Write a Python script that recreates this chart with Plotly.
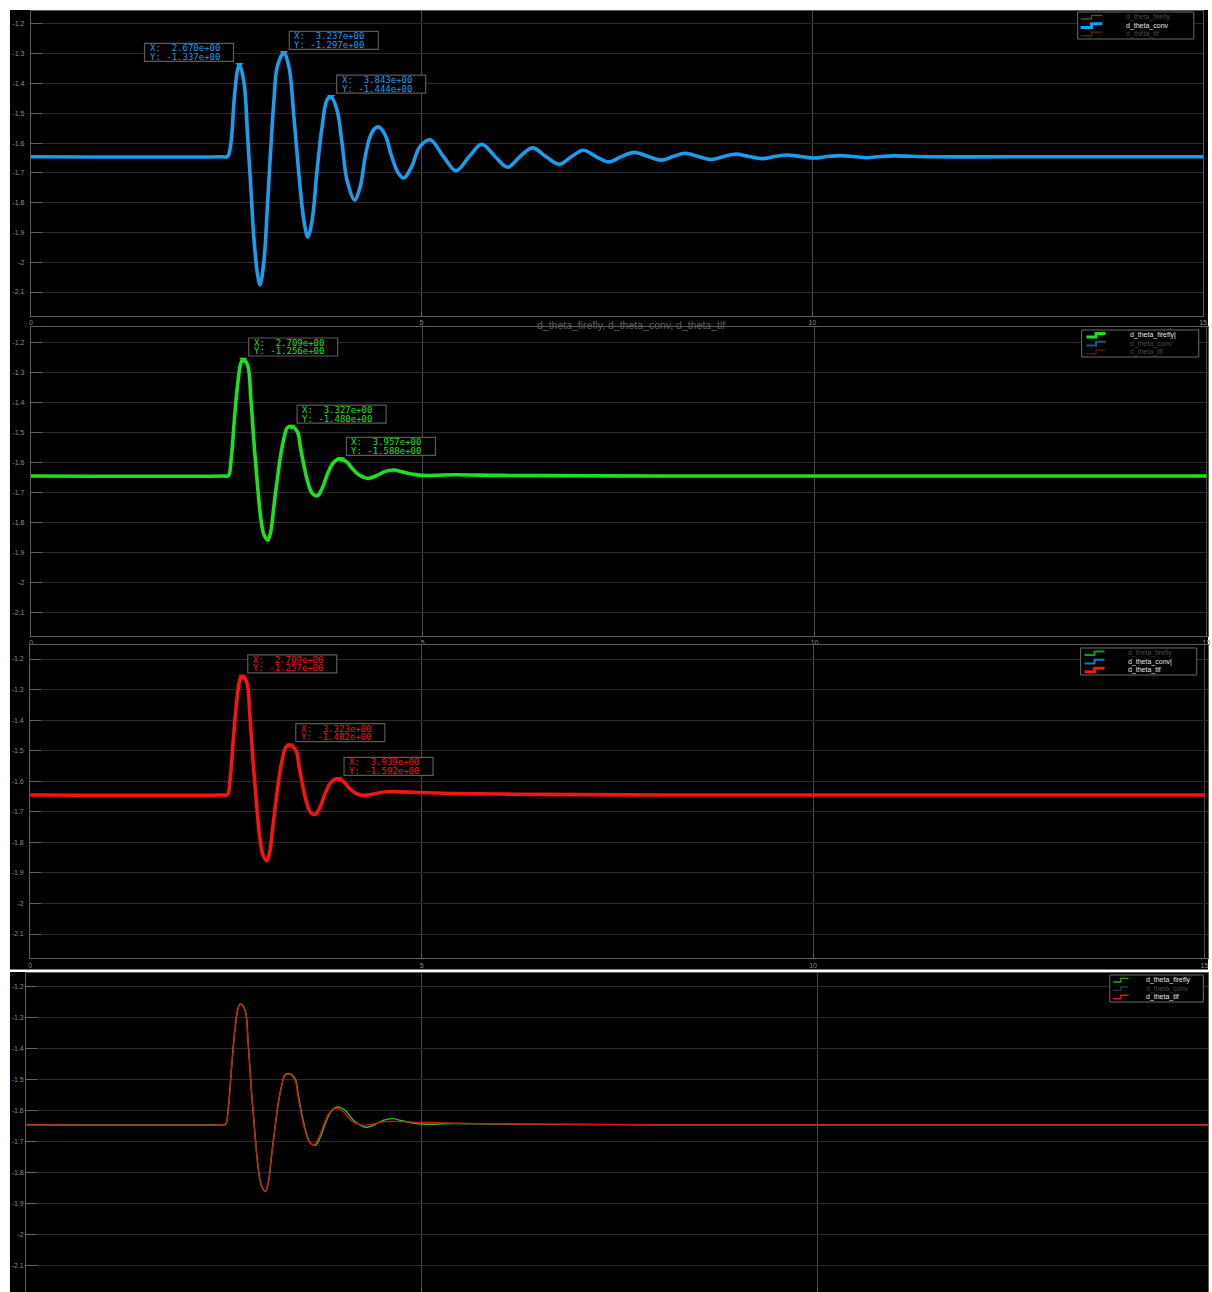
import plotly.graph_objects as go

# ---------------- data ----------------
conv_t = [0, 2.45, 2.517, 2.56, 2.602, 2.645, 2.670, 2.729, 2.772, 2.814, 2.856, 2.899, 2.933,
          2.984, 3.027, 3.069, 3.111, 3.154, 3.237, 3.302, 3.366, 3.429, 3.493, 3.544, 3.600,
          3.663, 3.727, 3.791, 3.843, 3.918, 3.982, 4.045, 4.143, 4.215, 4.279, 4.342, 4.406,
          4.455, 4.533, 4.618, 4.703, 4.775, 4.873, 4.979, 5.11, 5.28, 5.44, 5.61, 5.77, 5.94,
          6.10, 6.26, 6.42, 6.59, 6.76, 6.92, 7.07, 7.23, 7.39, 7.56, 7.72, 7.90, 8.07, 8.22,
          8.37, 8.54, 8.71, 8.87, 9.02, 9.19, 9.36, 9.52, 9.68, 9.85, 10.02, 10.19, 10.36,
          10.53, 10.70, 10.87, 11.04, 11.5, 12.5, 13.5, 15.0]
conv_y = [-1.646, -1.646, -1.645, -1.600, -1.455, -1.354, -1.337, -1.399, -1.567, -1.746, -1.925,
          -2.037, -2.076, -1.992, -1.813, -1.623, -1.455, -1.343, -1.297, -1.343, -1.511, -1.701,
          -1.858, -1.915, -1.858, -1.690, -1.545, -1.455, -1.444, -1.489, -1.600, -1.723, -1.791,
          -1.746, -1.645, -1.578, -1.550, -1.546, -1.572, -1.645, -1.701, -1.717, -1.679, -1.612,
          -1.589, -1.645, -1.693, -1.645, -1.604, -1.645, -1.681, -1.645, -1.616, -1.645, -1.671,
          -1.645, -1.624, -1.645, -1.663, -1.645, -1.631, -1.645, -1.657, -1.645, -1.634, -1.645,
          -1.655, -1.645, -1.637, -1.645, -1.652, -1.645, -1.640, -1.645, -1.650, -1.645, -1.642,
          -1.645, -1.649, -1.645, -1.643, -1.646, -1.646, -1.646, -1.646]

ff_t = [0, 2.45, 2.52, 2.553, 2.595, 2.638, 2.68, 2.709, 2.765, 2.807, 2.849, 2.892, 2.934, 2.976,
        3.025, 3.061, 3.103, 3.146, 3.188, 3.230, 3.273, 3.327, 3.40, 3.442, 3.484, 3.526, 3.590,
        3.655, 3.717, 3.780, 3.844, 3.908, 3.957, 4.035, 4.098, 4.161, 4.246, 4.30, 4.40, 4.52,
        4.63, 4.75, 4.90, 5.0, 5.4, 6.0, 7.0, 8.0, 10.0, 12.0, 15.0]
ff_y = [-1.645, -1.645, -1.644, -1.597, -1.464, -1.341, -1.268, -1.256, -1.274, -1.386, -1.541,
        -1.675, -1.786, -1.842, -1.859, -1.831, -1.742, -1.653, -1.575, -1.519, -1.484, -1.480,
        -1.497, -1.553, -1.609, -1.658, -1.703, -1.711, -1.686, -1.642, -1.606, -1.590, -1.588,
        -1.599, -1.619, -1.636, -1.649, -1.653, -1.645, -1.630, -1.625, -1.632, -1.640, -1.643,
        -1.641, -1.643, -1.644, -1.645, -1.645, -1.645, -1.645]

tlf_t = [0, 2.45, 2.52, 2.553, 2.595, 2.638, 2.68, 2.709, 2.765, 2.807, 2.849, 2.892, 2.934,
         2.976, 3.025, 3.061, 3.103, 3.146, 3.186, 3.227, 3.27, 3.323, 3.395, 3.437, 3.479,
         3.521, 3.585, 3.645, 3.705, 3.765, 3.826, 3.89, 3.939, 4.015, 4.08, 4.15, 4.22, 4.28,
         4.40, 4.52, 4.65, 5.0, 5.4, 6.0, 6.5, 8.0, 10.0, 12.0, 15.0]
tlf_y = [-1.645, -1.645, -1.644, -1.597, -1.464, -1.341, -1.268, -1.257, -1.274, -1.386, -1.541,
         -1.675, -1.786, -1.842, -1.860, -1.831, -1.742, -1.653, -1.577, -1.521, -1.487, -1.482,
         -1.499, -1.555, -1.611, -1.659, -1.703, -1.708, -1.684, -1.643, -1.609, -1.594, -1.592,
         -1.604, -1.624, -1.638, -1.645, -1.646, -1.641, -1.635, -1.634, -1.637, -1.640, -1.642,
         -1.643, -1.645, -1.645, -1.645, -1.645]

conv_tip_x = [2.670, 3.237, 3.843]
conv_tip_y = [-1.337, -1.297, -1.444]
ff_tip_x = [2.709, 3.327, 3.957]
ff_tip_y = [-1.256, -1.480, -1.588]
tlf_tip_x = [2.709, 3.323, 3.939]
tlf_tip_y = [-1.257, -1.482, -1.592]

series_names = ["d_theta_firefly", "d_theta_conv", "d_theta_tlf"]
plot_title = "d_theta_firefly, d_theta_conv, d_theta_tlf"

x_ticks = [0, 5, 10, 15]
x_tick_text = ["0", "5", "10", "15"]
y_ticks = [-1.2, -1.3, -1.4, -1.5, -1.6, -1.7, -1.8, -1.9, -2.0, -2.1]
y_tick_text = ["-1.2", "-1.3", "-1.4", "-1.5", "-1.6", "-1.7", "-1.8", "-1.9", "-2", "-2.1"]

# ---------------- style / layout ----------------
W, H = 1212, 1292


def fx(px):
    return px / W


def fy(py):
    return 1 - py / H


BLUE = "#1C9CEB"
GREEN = "#1EE01E"
RED = "#F41414"
TICKFONT = dict(family="Liberation Sans", size=7, color="#8c8c8c")
SMOOTH = 1.0

panels = [
    dict(x0=29, x1=1207, y0=10.7, y1=316, xr=[0, 15], yr=[-2.1805, -1.1554], labels=True, so=4),
    dict(x0=29, x1=1212, y0=327.3, y1=636, xr=[0, 15.02], yr=[-2.179, -1.1486], labels=True, so=4),
    dict(x0=28.3, x1=1212, y0=645, y1=958.3, xr=[0, 15.045], yr=[-2.1795, -1.1542], labels=True, so=4),
    dict(x0=24.3, x1=1212, y0=972.7, y1=1292, xr=[0, 14.94], yr=[-2.1838, -1.1549], labels=False, so=0),
]

fig = go.Figure()
layout = dict(width=W, height=H, margin=dict(l=0, r=0, t=0, b=0),
              paper_bgcolor="white", plot_bgcolor="black", showlegend=False)

shapes = [
    dict(type="rect", xref="paper", yref="paper", x0=fx(8), x1=fx(1212), y0=fy(969.5), y1=fy(10),
         fillcolor="black", line=dict(width=0), layer="below"),
    dict(type="rect", xref="paper", yref="paper", x0=fx(8), x1=fx(1212), y0=fy(1292), y1=fy(972),
         fillcolor="black", line=dict(width=0), layer="below"),
]
annotations = []

for i, p in enumerate(panels, start=1):
    sx = "" if i == 1 else str(i)
    layout["xaxis" + sx] = dict(
        domain=[fx(p["x0"]), fx(p["x1"])], range=p["xr"], anchor="y" + sx,
        tickvals=x_ticks, ticktext=x_tick_text, showticklabels=p["labels"],
        ticks="inside", ticklen=4, tickcolor="#606060", tickfont=TICKFONT,
        ticklabelstandoff=0,
        showgrid=True, gridcolor="#4a4a4a", gridwidth=1, zeroline=False,
        showline=True, linecolor="#5c5c5c", linewidth=1, mirror=True)
    layout["yaxis" + sx] = dict(
        domain=[fy(p["y1"]), fy(p["y0"])], range=p["yr"], anchor="x" + sx,
        tickvals=y_ticks, ticktext=y_tick_text,
        ticks="inside", ticklen=11, tickcolor="#626262", tickfont=TICKFONT,
        ticklabelstandoff=p["so"],
        showgrid=True, gridcolor="#2a2a2a", gridwidth=1, zeroline=False,
        showline=True, linecolor="#5c5c5c", linewidth=1, mirror=True)


def axes(i):
    return ("x", "y") if i == 1 else ("x%d" % i, "y%d" % i)


def add_line(i, t, y, color, width):
    xa, ya = axes(i)
    fig.add_trace(go.Scatter(x=t, y=y, mode="lines", xaxis=xa, yaxis=ya,
                             line=dict(color=color, width=width, shape="spline", smoothing=SMOOTH),
                             hoverinfo="skip"))


def add_tips(i, tx, ty, color, sides):
    xa, ya = axes(i)
    fig.add_trace(go.Scatter(x=tx, y=ty, mode="markers", xaxis=xa, yaxis=ya,
                             marker=dict(symbol="triangle-down", size=7, color=color,
                                         line=dict(width=0)),
                             hoverinfo="skip"))
    for x, y, side in zip(tx, ty, sides):
        dx0 = 5.5 if side == "R" else -95
        shapes.append(dict(type="rect", xref=xa, yref=ya, xsizemode="pixel", ysizemode="pixel",
                           xanchor=x, yanchor=y, x0=dx0, x1=dx0 + 89, y0=3.5, y1=21.5,
                           fillcolor="black", line=dict(color="#5a5a5a", width=1.2)))
        for txt, dy in ((f"X:  {x:.3e}", 16.5), (f"Y: {y:.3e}", 8.0)):
            annotations.append(dict(x=x, y=y, xref=xa, yref=ya, text=txt, showarrow=False,
                                    xanchor="left", yanchor="middle", xshift=dx0 + 3, yshift=dy,
                                    font=dict(family="DejaVu Sans Mono", size=9, color=color)))


# panel 1: conv
add_line(1, conv_t, conv_y, BLUE, 3.6)
add_tips(1, conv_tip_x, conv_tip_y, BLUE, ["L", "R", "R"])
# panel 2: firefly
add_line(2, ff_t, ff_y, GREEN, 3.6)
add_tips(2, ff_tip_x, ff_tip_y, GREEN, ["R", "R", "R"])
# panel 3: tlf
add_line(3, tlf_t, tlf_y, RED, 3.6)
add_tips(3, tlf_tip_x, tlf_tip_y, RED, ["R", "R", "R"])
# panel 4: overlay
add_line(4, ff_t, ff_y, "#22C822", 1.4)
add_line(4, tlf_t, tlf_y, "#E01010", 1.3)

# ---------------- legends (drawn as boxes + text) ----------------
BRIGHT, DIM = "#e6e6e6", "#4a4a4a"
legends = [
    dict(box=(1081, 12, 1197.7, 39), top=13, icon=(1084, 1106), tx=1127.7,
         icol=("#4a5a14", BLUE, "#5a2a10"), iw=(1.3, 3, 1.3),
         tcol=(DIM, BRIGHT, DIM), suffix=("", "", "")),
    dict(box=(1085, 330, 1202.7, 357), top=331, icon=(1090, 1109), tx=1131.7,
         icol=(GREEN, "#1a5a8a", "#5a2010"), iw=(3, 2, 1.3),
         tcol=(BRIGHT, DIM, DIM), suffix=("|", "", "")),
    dict(box=(1084, 648, 1200.7, 675), top=649, icon=(1088, 1108), tx=1130,
         icol=("#139a13", "#1a78c0", RED), iw=(2, 2, 3),
         tcol=(DIM, BRIGHT, BRIGHT), suffix=("", "|", "")),
    dict(box=(1113.3, 975, 1207.3, 1002), top=976, icon=(1116.7, 1132), tx=1148,
         icol=("#1ab01a", "#18405e", "#E01010"), iw=(1.3, 1.3, 1.5),
         tcol=(BRIGHT, DIM, BRIGHT), suffix=("", "", "")),
]
ROW = 8.4
for lg in legends:
    bx0, by0, bx1, by1 = lg["box"]
    shapes.append(dict(type="rect", xref="paper", yref="paper", x0=fx(bx0), x1=fx(bx1),
                       y0=fy(by1), y1=fy(by0), fillcolor="black",
                       line=dict(color="#6a6a6a", width=1)))
    ia, ib = lg["icon"]
    im = (ia + ib) / 2
    for k in range(3):
        yc = lg["top"] + ROW * (k + 0.5)
        path = (f"M {fx(ia)},{fy(yc + 1.8)} L {fx(im)},{fy(yc + 1.8)} "
                f"L {fx(im)},{fy(yc - 1.8)} L {fx(ib)},{fy(yc - 1.8)}")
        shapes.append(dict(type="path", xref="paper", yref="paper", path=path,
                           line=dict(color=lg["icol"][k], width=lg["iw"][k])))
        annotations.append(dict(x=fx(lg["tx"]), y=fy(yc), xref="paper", yref="paper",
                                text=series_names[k] + lg["suffix"][k], showarrow=False,
                                xanchor="left", yanchor="middle",
                                font=dict(family="Liberation Sans", size=7, color=lg["tcol"][k])))

annotations.append(dict(x=fx(632), y=fy(324.5), xref="paper", yref="paper", text=plot_title,
                        showarrow=False, xanchor="center", yanchor="middle",
                        font=dict(family="Liberation Sans", size=10.5, color="#5e5e5e")))

layout["shapes"] = shapes
layout["annotations"] = annotations
fig.update_layout(**layout)
fig.write_html("out.html")
